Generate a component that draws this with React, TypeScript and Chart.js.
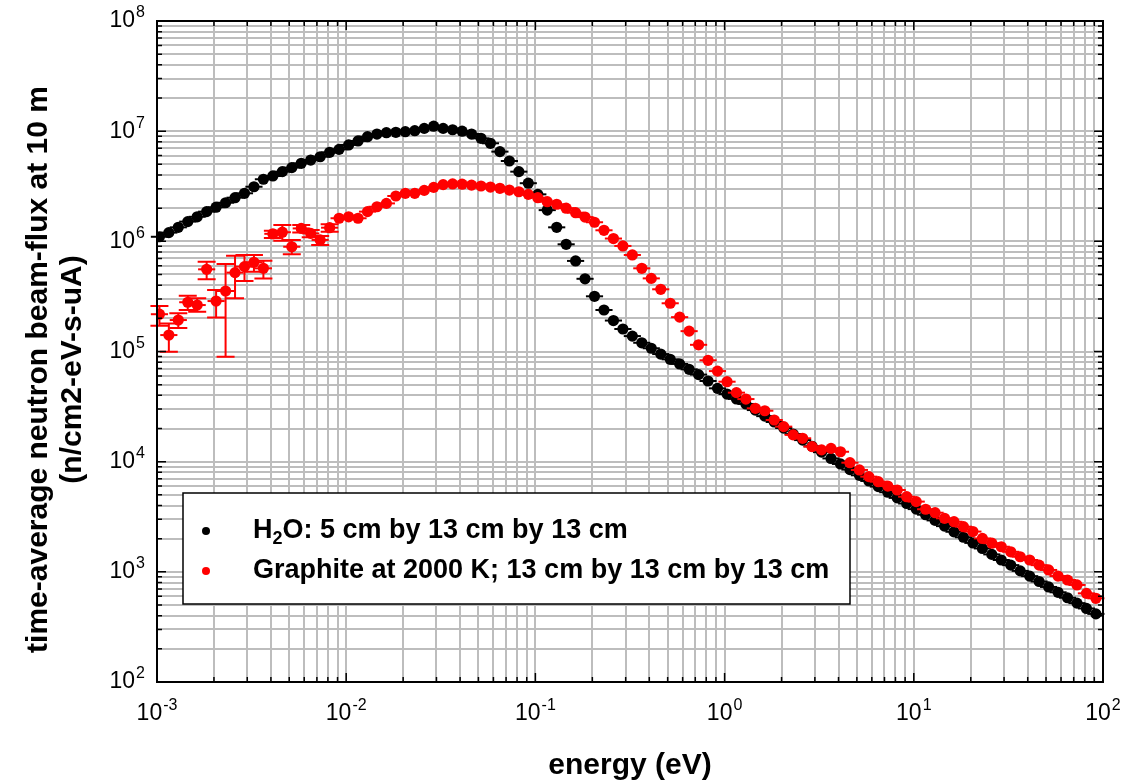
import React, { useEffect, useRef } from "react";
import { Chart, registerables } from "chart.js";

Chart.register(...registerables);

// ---------------- data ----------------
const energies = [
  1.03e-3, 1.155e-3, 1.296e-3, 1.454e-3, 1.631e-3, 1.83e-3, 2.053e-3, 2.304e-3, 2.585e-3, 2.9e-3,
  3.254e-3, 3.651e-3, 4.097e-3, 4.597e-3, 5.158e-3, 5.786e-3, 6.493e-3, 7.285e-3, 8.174e-3, 9.171e-3,
  1.03e-2, 1.155e-2, 1.296e-2, 1.454e-2, 1.631e-2, 1.83e-2, 2.053e-2, 2.304e-2, 2.585e-2, 2.9e-2,
  3.254e-2, 3.651e-2, 4.097e-2, 4.597e-2, 5.158e-2, 5.786e-2, 6.493e-2, 7.285e-2, 8.174e-2, 9.171e-2,
  1.03e-1, 1.155e-1, 1.296e-1, 1.454e-1, 1.631e-1, 1.83e-1, 2.053e-1, 2.304e-1, 2.585e-1, 2.9e-1,
  3.254e-1, 3.651e-1, 4.097e-1, 4.597e-1, 5.158e-1, 5.786e-1, 6.493e-1, 7.285e-1, 8.174e-1, 9.171e-1,
  1.03, 1.155, 1.296, 1.454, 1.631, 1.83, 2.053, 2.304, 2.585, 2.9,
  3.254, 3.651, 4.097, 4.597, 5.158, 5.786, 6.493, 7.285, 8.174, 9.171,
  10.3, 11.55, 12.96, 14.54, 16.31, 18.3, 20.53, 23.04, 25.85, 29.0,
  32.54, 36.51, 40.97, 45.97, 51.58, 57.86, 64.93, 72.85, 81.74, 91.71,
];

const h2oFlux = [
  1.10e6, 1.20e6, 1.34e6, 1.51e6, 1.67e6, 1.86e6, 2.04e6, 2.24e6, 2.49e6, 2.73e6,
  3.13e6, 3.66e6, 3.92e6, 4.29e6, 4.67e6, 5.11e6, 5.47e6, 5.86e6, 6.43e6, 6.84e6,
  7.50e6, 8.15e6, 8.91e6, 9.42e6, 9.68e6, 9.77e6, 9.89e6, 1.01e7, 1.06e7, 1.11e7,
  1.06e7, 1.03e7, 1.00e7, 9.42e6, 8.61e6, 7.76e6, 6.52e6, 5.36e6, 4.29e6, 3.37e6,
  2.67e6, 1.92e6, 1.34e6, 9.40e5, 6.64e5, 4.57e5, 3.17e5, 2.38e5, 1.91e5, 1.60e5,
  1.38e5, 1.20e5, 1.07e5, 9.48e4, 8.49e4, 7.71e4, 6.89e4, 6.17e4, 5.40e4, 4.63e4,
  4.11e4, 3.71e4, 3.34e4, 2.94e4, 2.59e4, 2.29e4, 2.02e4, 1.78e4, 1.57e4, 1.38e4,
  1.22e4, 1.07e4, 9.53e3, 8.47e3, 7.52e3, 6.68e3, 5.94e3, 5.28e3, 4.69e3, 4.17e3,
  3.71e3, 3.30e3, 2.93e3, 2.60e3, 2.31e3, 2.06e3, 1.83e3, 1.63e3, 1.44e3, 1.28e3,
  1.15e3, 1.02e3, 914, 817, 729, 652, 582, 520, 465, 415,
];

const graphiteFlux = [
  2.18e5, 1.41e5, 1.93e5, 2.80e5, 2.64e5, 5.57e5, 2.87e5, 3.54e5, 5.20e5, 5.89e5,
  6.46e5, 5.69e5, 1.17e6, 1.21e6, 8.93e5, 1.31e6, 1.18e6, 1.03e6, 1.33e6, 1.62e6,
  1.67e6, 1.62e6, 1.86e6, 2.06e6, 2.21e6, 2.58e6, 2.73e6, 2.73e6, 2.90e6, 3.09e6,
  3.27e6, 3.32e6, 3.30e6, 3.24e6, 3.18e6, 3.11e6, 3.03e6, 2.92e6, 2.82e6, 2.67e6,
  2.49e6, 2.29e6, 2.17e6, 2.00e6, 1.82e6, 1.66e6, 1.49e6, 1.26e6, 1.06e6, 9.08e5,
  7.52e5, 5.69e5, 4.61e5, 3.67e5, 2.74e5, 2.05e5, 1.53e5, 1.15e5, 8.32e4, 6.64e4,
  5.32e4, 4.23e4, 3.70e4, 3.05e4, 2.90e4, 2.39e4, 2.08e4, 1.75e4, 1.63e4, 1.37e4,
  1.28e4, 1.32e4, 1.23e4, 9.79e3, 8.41e3, 7.31e3, 6.58e3, 6.01e3, 5.53e3, 4.81e3,
  4.34e3, 3.70e3, 3.44e3, 3.06e3, 2.85e3, 2.57e3, 2.32e3, 2.01e3, 1.82e3, 1.69e3,
  1.52e3, 1.37e3, 1.28e3, 1.15e3, 1.04e3, 916, 843, 760, 638, 575,
];

// vertical error limits of the low-energy graphite points
const graphiteErrHigh = [
  2.59e5, 1.80e5, 2.22e5, 3.21e5, 3.04e5, 6.53e5, 3.61e5, 6.22e5, 7.41e5, 7.52e5,
  7.52e5, 6.68e5, 1.25e6, 1.41e6, 1.03e6, 1.41e6, 1.27e6, 1.12e6, 1.43e6,
];
const graphiteErrLow = [
  1.71e5, 9.95e4, 1.63e5, 2.38e5, 2.30e5, 4.52e5, 2.04e5, 8.97e4, 3.04e5, 4.37e5,
  5.30e5, 4.61e5, 1.07e6, 1.01e6, 7.62e5, 1.20e6, 1.09e6, 9.27e5, 1.22e6,
];

// energy bin half-width as a multiplicative factor
const energyErrFactor = 1.11;

const xTickExponents = [-3, -2, -1, 0, 1, 2];
const yTickExponents = [2, 3, 4, 5, 6, 7, 8];

const seriesNames = ["H2O: 5 cm by 13 cm by 13 cm", "Graphite at 2000 K; 13 cm by 13 cm by 13 cm"];
const seriesColors = ["#000000", "#ff0000"];
const xTitle = "energy (eV)";
const yTitleLines = ["time-average neutron beam-flux at 10 m", "(n/cm2-eV-s-uA)"];

// ---------------- helpers ----------------
const FONT = '"Liberation Sans", Arial, Helvetica, sans-serif';

function gridValues(exps: number[]) {
  const out: number[] = [];
  for (let k = 0; k < exps.length - 1; k++) {
    for (let m = 1; m <= 9; m++) out.push(m * Math.pow(10, exps[k]));
  }
  out.push(Math.pow(10, exps[exps.length - 1]));
  return out;
}

function drawPow(ctx: CanvasRenderingContext2D, exp: number, cx: number, cy: number, align: "center" | "right") {
  const base = "10";
  const sup = String(exp);
  ctx.font = `23px ${FONT}`;
  const wb = ctx.measureText(base).width;
  ctx.font = `16px ${FONT}`;
  const ws = ctx.measureText(sup).width;
  const total = wb + ws + 1;
  const left = align === "center" ? cx - total / 2 : cx - total;
  ctx.textAlign = "left";
  ctx.textBaseline = "middle";
  ctx.fillStyle = "#000";
  ctx.font = `23px ${FONT}`;
  ctx.fillText(base, left, cy);
  ctx.font = `16px ${FONT}`;
  ctx.fillText(sup, left + wb + 1, cy - 8);
}

const errorBarPlugin = {
  id: "errorBars",
  beforeDatasetDraw(chart: any, args: any) {
    const ds = chart.data.datasets[args.index];
    const xs = chart.scales.x;
    const ys = chart.scales.y;
    const ctx: CanvasRenderingContext2D = chart.ctx;
    ctx.save();
    ctx.strokeStyle = ds.backgroundColor;
    ctx.lineWidth = 2;
    ds.data.forEach((p: any) => {
      const px = xs.getPixelForValue(p.x);
      const py = ys.getPixelForValue(p.y);
      const xl = xs.getPixelForValue(p.x / energyErrFactor);
      const xr = xs.getPixelForValue(p.x * energyErrFactor);
      ctx.beginPath();
      ctx.moveTo(xl, py);
      ctx.lineTo(xr, py);
      ctx.stroke();
      if (p.yHigh != null && p.yLow != null) {
        const yt = ys.getPixelForValue(p.yHigh);
        const yb = ys.getPixelForValue(p.yLow);
        const cap = 9;
        ctx.beginPath();
        ctx.moveTo(px, yt);
        ctx.lineTo(px, yb);
        ctx.moveTo(px - cap, yt);
        ctx.lineTo(px + cap, yt);
        ctx.moveTo(px - cap, yb);
        ctx.lineTo(px + cap, yb);
        ctx.stroke();
      }
    });
    ctx.restore();
  },
};

const decorPlugin = {
  id: "decor",
  afterDraw(chart: any) {
    const ctx: CanvasRenderingContext2D = chart.ctx;
    const a = chart.chartArea;
    const xs = chart.scales.x;
    const ys = chart.scales.y;
    ctx.save();

    // ticks (inside, all four sides)
    ctx.strokeStyle = "#000";
    ctx.lineWidth = 1.5;
    const isMajor = (v: number) => Math.abs(Math.log10(v) - Math.round(Math.log10(v))) < 1e-6;
    gridValues(xTickExponents).forEach((v) => {
      const x = xs.getPixelForValue(v);
      const len = isMajor(v) ? 9 : 5;
      ctx.beginPath();
      ctx.moveTo(x, a.bottom);
      ctx.lineTo(x, a.bottom - len);
      ctx.moveTo(x, a.top);
      ctx.lineTo(x, a.top + len);
      ctx.stroke();
    });
    gridValues(yTickExponents).forEach((v) => {
      const y = ys.getPixelForValue(v);
      const len = isMajor(v) ? 9 : 5;
      ctx.beginPath();
      ctx.moveTo(a.left, y);
      ctx.lineTo(a.left + len, y);
      ctx.moveTo(a.right, y);
      ctx.lineTo(a.right - len, y);
      ctx.stroke();
    });

    // frame
    ctx.lineWidth = 2;
    ctx.strokeRect(a.left, a.top, a.right - a.left, a.bottom - a.top);

    // tick labels
    xTickExponents.forEach((e) => drawPow(ctx, e, xs.getPixelForValue(Math.pow(10, e)), a.bottom + 32, "center"));
    yTickExponents.forEach((e) => drawPow(ctx, e, a.left - 12, ys.getPixelForValue(Math.pow(10, e)), "right"));

    // axis titles
    ctx.fillStyle = "#000";
    ctx.textAlign = "center";
    ctx.textBaseline = "middle";
    ctx.font = `bold 30px ${FONT}`;
    ctx.fillText(xTitle, (a.left + a.right) / 2, a.bottom + 84);
    ctx.save();
    ctx.translate(0, (a.top + a.bottom) / 2 + 18);
    ctx.rotate(-Math.PI / 2);
    ctx.fillText(yTitleLines[0], 0, 39);
    ctx.fillText(yTitleLines[1], 0, 73);
    ctx.restore();

    // legend box
    const bx = a.left + 26;
    const by = a.top + 472;
    const bw = 667;
    const bh = 111;
    ctx.fillStyle = "#fff";
    ctx.fillRect(bx, by, bw, bh);
    ctx.strokeStyle = "#000";
    ctx.lineWidth = 1.5;
    ctx.strokeRect(bx, by, bw, bh);
    const rows = [by + 38, by + 78];
    rows.forEach((ry, i) => {
      ctx.fillStyle = seriesColors[i];
      ctx.beginPath();
      ctx.arc(bx + 23, ry, 4, 0, Math.PI * 2);
      ctx.fill();
      ctx.fillStyle = "#000";
      ctx.textAlign = "left";
      ctx.textBaseline = "middle";
      const tx = bx + 70;
      const name = seriesNames[i];
      if (name.startsWith("H2O")) {
        ctx.font = `bold 27px ${FONT}`;
        ctx.fillText("H", tx, ry);
        let w = ctx.measureText("H").width;
        ctx.font = `bold 18px ${FONT}`;
        ctx.fillText("2", tx + w, ry + 8);
        w += ctx.measureText("2").width;
        ctx.font = `bold 27px ${FONT}`;
        ctx.fillText(name.slice(2), tx + w, ry);
      } else {
        ctx.font = `bold 27px ${FONT}`;
        ctx.fillText(name, tx, ry);
      }
    });
    ctx.restore();
  },
};

export default function App() {
  const ref = useRef<HTMLCanvasElement>(null);
  useEffect(() => {
    if (!ref.current) return;
    const chart = new Chart(ref.current, {
      type: "scatter",
      data: {
        datasets: [
          {
            label: seriesNames[0],
            data: energies.map((e, i) => ({ x: e, y: h2oFlux[i] })),
            backgroundColor: seriesColors[0],
            borderColor: seriesColors[0],
            pointRadius: 5.6,
            pointHoverRadius: 5.6,
            pointBorderWidth: 0,
            order: 2,
          },
          {
            label: seriesNames[1],
            data: energies.map((e, i) => ({ x: e, y: graphiteFlux[i], yHigh: graphiteErrHigh[i], yLow: graphiteErrLow[i] })),
            backgroundColor: seriesColors[1],
            borderColor: seriesColors[1],
            pointRadius: 5.6,
            pointHoverRadius: 5.6,
            pointBorderWidth: 0,
            order: 1,
          },
        ] as any,
      },
      options: {
        animation: false,
        responsive: false,
        devicePixelRatio: 1,
        events: [],
        layout: { padding: { left: 157, right: 19, top: 21, bottom: 101 } },
        plugins: { legend: { display: false }, tooltip: { enabled: false }, title: { display: false } },
        scales: {
          x: {
            type: "logarithmic",
            min: 1e-3,
            max: 1e2,
            afterBuildTicks: (s: any) => {
              s.ticks = gridValues(xTickExponents).map((v) => ({ value: v }));
            },
            afterFit: (s: any) => {
              s.height = 0;
            },
            ticks: { display: false },
            grid: { color: "#bdbdbd", lineWidth: 2, drawTicks: false },
            border: { display: false },
          },
          y: {
            type: "logarithmic",
            min: 1e2,
            max: 1e8,
            afterBuildTicks: (s: any) => {
              s.ticks = gridValues(yTickExponents).map((v) => ({ value: v }));
            },
            afterFit: (s: any) => {
              s.width = 0;
            },
            ticks: { display: false },
            grid: { color: "#bdbdbd", lineWidth: 2, drawTicks: false },
            border: { display: false },
          },
        },
      } as any,
      plugins: [errorBarPlugin, decorPlugin],
    });
    return () => chart.destroy();
  }, []);
  return (
    <div style={{ position: "fixed", left: 0, top: 0, width: 1122, height: 783, background: "#fff" }}>
      <canvas ref={ref} width={1122} height={783} style={{ display: "block", width: 1122, height: 783 }} />
    </div>
  );
}
